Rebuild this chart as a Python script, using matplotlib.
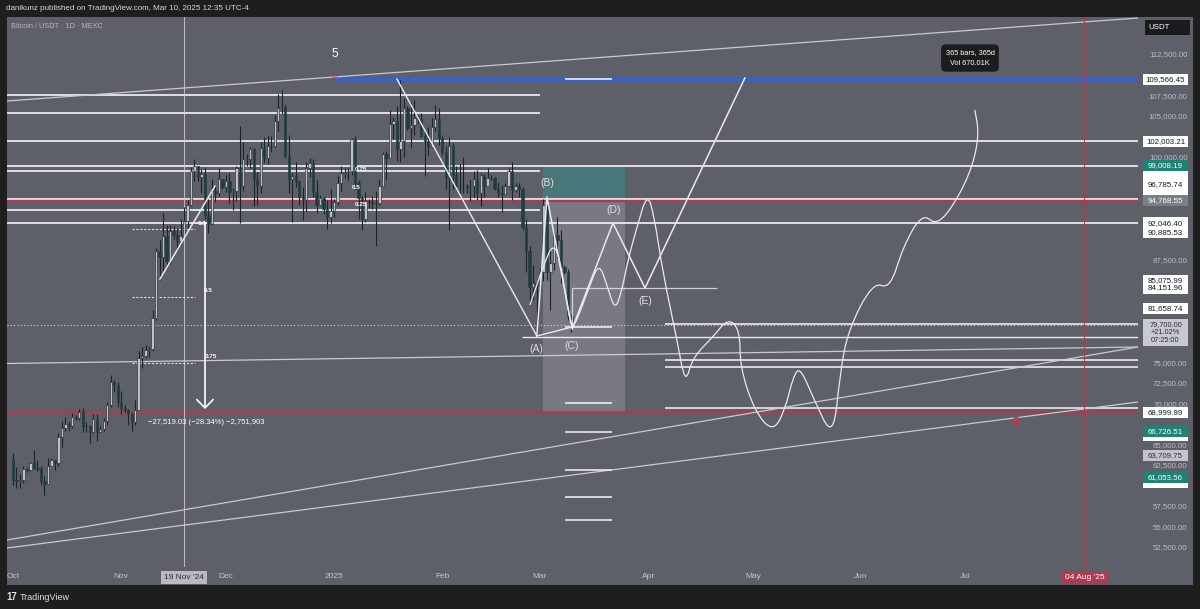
import matplotlib
matplotlib.use('Agg')
import matplotlib.pyplot as plt
import matplotlib.transforms as mtransforms
from matplotlib.patches import Rectangle, PathPatch
from matplotlib.path import Path
import numpy as np

plt.rcParams['font.family'] = ['Liberation Sans', 'DejaVu Sans']

# ---- daily candles, day 0 = 1 Oct 2024 ... day 160 = 10 Mar 2025 ----
first_open = 63300
closes_oct = [60800, 60650, 60750, 62100, 62050, 62800, 62250, 62150, 60600, 60300,
              62450, 63200, 62850, 66050, 67050, 67600, 67400, 68400, 68350, 69000,
              67400, 67400, 66650, 68200, 66650, 67000, 68000, 69900, 72700, 72350, 70250]
highs_oct = [64100, 62400, 61450, 62450, 62350, 63000, 64450, 63200, 62500, 61300,
             63400, 63450, 63250, 66500, 67900, 68400, 67900, 68950, 68650, 69400,
             69500, 67850, 67450, 68800, 68800, 67400, 68300, 70250, 73600, 72950, 72700]
lows_oct = [60200, 59800, 59850, 60450, 61700, 61900, 62100, 61850, 60300, 58900,
            60250, 62450, 62050, 62450, 64800, 66750, 66700, 67100, 68100, 68100,
            66600, 66600, 65300, 66550, 65550, 66550, 66800, 67500, 69700, 71500, 69700]

closes_nov = [69500, 69350, 68750, 67800, 69350, 75600, 75900, 76550, 76700, 80450,
              88700, 87950, 90500, 87400, 91050, 90600, 89850, 90450, 92350, 94300,
              98400, 98950, 97700, 98000, 93050, 91950, 95950, 95650, 97450, 96400]
highs_nov = [71600, 69950, 69400, 69000, 70550, 76450, 76950, 77250, 76950, 81500,
             89000, 89950, 93250, 91800, 91850, 91750, 91450, 92600, 94000, 94900,
             98900, 99800, 99000, 98650, 98900, 94950, 97350, 96650, 98700, 97450]
lows_nov = [68800, 69050, 67450, 66800, 67450, 69350, 74450, 75600, 75800, 76500,
            80250, 85100, 86250, 86650, 87100, 90100, 88700, 89400, 90400, 91500,
            94100, 97200, 97200, 95750, 92600, 90800, 91800, 94650, 95350, 96200]

closes_dec = [97200, 95850, 96000, 98750, 96600, 99850, 99900, 101100, 97350, 96600,
              101150, 100000, 101400, 101400, 104450, 106050, 106150, 100200, 97450, 97750,
              97200, 95200, 94850, 98700, 99400, 95800, 94250, 95150, 93700, 92800, 93550]
highs_dec = [97900, 98100, 96300, 99000, 103900, 101900, 100500, 101300, 101200, 98250,
             101900, 102500, 102600, 102600, 105200, 107800, 108300, 106500, 102800, 98150,
             99500, 97300, 96400, 99450, 99950, 99900, 97300, 95500, 95200, 94900, 96150]
lows_dec = [95800, 94500, 93600, 94700, 92100, 95950, 99000, 98750, 94150, 94300,
            95650, 99300, 99200, 100650, 101250, 103300, 105300, 100000, 95650, 92200,
            96400, 94200, 92400, 93400, 97600, 95200, 93300, 94150, 93200, 91300, 92000]

closes_jan = [94600, 96900, 98100, 98250, 98350, 102250, 96950, 95050, 92500, 94700,
              94550, 94500, 94500, 96550, 100500, 99950, 104100, 104450, 101100, 102000,
              106100, 103650, 103950, 104800, 104700, 102650, 102050, 101300, 103700, 104700, 102400]
highs_jan = [94950, 97750, 98950, 98750, 98800, 102450, 102700, 97250, 95350, 95800,
             95000, 95400, 95900, 97350, 100700, 100850, 105850, 104950, 106300, 109500,
             107250, 106300, 106800, 107050, 105250, 105450, 103200, 103750, 104800, 106450, 106000]
lows_jan = [92750, 94200, 96000, 97500, 97300, 97900, 96150, 92500, 91200, 92200,
            93850, 93700, 89250, 94300, 96500, 97300, 99950, 102300, 99600, 99500,
            100100, 103350, 101300, 102800, 104150, 102500, 97750, 100300, 101300, 103300, 101550]

closes_feb = [100650, 97700, 101400, 97850, 96600, 96550, 96500, 96450, 96500, 97400,
              95750, 97850, 96600, 97500, 97550, 96150, 95750, 95600, 96550, 98350,
              96100, 96600, 96250, 91550, 88700, 84250, 84700, 84350]
highs_feb = [102750, 101450, 102500, 101750, 99000, 99200, 100100, 96850, 97300, 98350,
             98500, 98100, 98050, 98800, 97950, 97700, 97000, 96650, 96900, 98700,
             99500, 96900, 96900, 96450, 92500, 89300, 87000, 85000]
lows_feb = [100300, 96200, 91200, 96200, 96200, 95700, 95650, 95700, 94750, 95250,
            94850, 94100, 95250, 96500, 97250, 96050, 95250, 93400, 95600, 96450,
            94900, 95800, 95200, 91200, 86050, 82300, 82700, 78250]

closes_mar = [86050, 94250, 86100, 87200, 90600, 89950, 86750, 86150, 80700, 79700]
highs_mar = [86550, 95000, 94400, 88900, 91000, 92800, 91200, 86900, 86400, 81000]
lows_mar = [83800, 85050, 85100, 81500, 86350, 87800, 84700, 85900, 80200, 78800]

closes = closes_oct + closes_nov + closes_dec + closes_jan + closes_feb + closes_mar
highs = highs_oct + highs_nov + highs_dec + highs_jan + highs_feb + highs_mar
lows = lows_oct + lows_nov + lows_dec + lows_jan + lows_feb + lows_mar
opens = [first_open] + closes[:-1]

# ---- time axis ----
month_days = [0, 31, 61, 92, 123, 151, 182, 212, 243, 273]
month_labels = ['Oct', 'Nov', 'Dec', '2025', 'Feb', 'Mar', 'Apr', 'May', 'Jun', 'Jul']
marker_day = 49          # 19 Nov '24
future_day = 307         # 04 Aug '25

# ---- drawn levels ----
full_levels = [102003.21, 99008.19, 94950, 92046.40]
left_levels = [107600, 105450, 98400, 93650]
right_levels = [79760, 75380, 74530, 69540]
red_levels = [94700, 68999.99]
short_levels = [109566.45, 79400, 70150, 66620, 62000, 58710, 55910]
blue_level = 109566.45
last_price = 79700
fib_left = [91324, 83049, 75017]

# slanted trend lines (day0, price0, day1, price1)
trend_lines = [(-1.72, 106902, 322.35, 117003),
               (-1.72, 53476, 322.35, 76964),
               (-1.72, 52502, 322.35, 70270),
               (-1.72, 74956, 322.35, 76964)]

wave_days = [150.1, 153.0, 160.2, 171.9, 181.1, 209.7]
wave_prices = [78302, 95219, 79155, 92054, 84144, 109701]
wave_names = ['(A)', '(B)', '(C)', '(D)', '(E)']
wave_label_days = [149.9, 153.0, 160.2, 172.2, 181.1]
wave_label_prices = [76720, 96922, 77085, 93636, 82562]

curve_days = [148.1, 150.1, 152.4, 154.7, 156.7, 158.5, 160.2, 162.5, 165.3, 167.9,
              170.2, 172.5, 174.5, 176.2, 178.8, 181.7, 183.7, 186.2, 190.3, 192.6,
              194.8, 200.6, 204.9, 208.3, 208.3, 212.6, 217.8, 221.2, 223.5, 225.5,
              229.2, 235.0, 237.0, 239.3, 246.4, 251.3, 255.0, 260.5, 264.8, 270.5,
              275.1, 276.8, 275.6]
curve_prices = [82075, 84509, 87308, 89499, 87795, 82683, 79032, 81223, 84509, 87186,
                84509, 81345, 83900, 87551, 91568, 95705, 93028, 85969, 77815, 72339,
                75747, 78181, 80493, 79033, 74530, 69053, 66619, 69297, 73313, 74530,
                70879, 65646, 73801, 79033, 84874, 84022, 89134, 93271, 91690, 94854,
                99113, 103007, 105807]

price_tags = [(109566.45, 'w'), (102003.21, 'w'), (96785.74, 'w'), (92046.40, 'w'),
              (90885.53, 'w'), (85075.99, 'w'), (84151.96, 'w'), (81658.74, 'w'),
              (68999.99, 'w'), (99008.19, 't'), (94768.55, 'g'), (66726.51, 't'),
              (63709.75, 'l'), (61053.56, 't')]
hidden_tags = [97700, 95350, 66150, 60450]
last_tag_low, last_tag_high = 77085, 80371
price_ticks = np.arange(52500, 112501, 2500)

GREY = '#5d5f69'
DARK = '#1e1e1e'
LINE = '#e9eaee'
RED = '#b5374c'
TEAL = '#1e8275'
X0, X1 = -1.72, 322.35
Y0, Y1 = 50190, 117125

fig = plt.figure(figsize=(12, 6.09), dpi=100, facecolor=DARK)

# grey chart panel behind everything
bg = fig.add_axes([7 / 1200, 24 / 609, 1186 / 1200, 568 / 609], zorder=-5)
bg.set_facecolor(GREY)
bg.set_xticks([])
bg.set_yticks([])
for s in bg.spines.values():
    s.set_visible(False)

ax = fig.add_axes([7 / 1200, 42 / 609, 1131 / 1200, 550 / 609])
ax.set_facecolor('none')
ax.set_xlim(X0, X1)
ax.set_ylim(Y0, Y1)
for s in ax.spines.values():
    s.set_visible(False)
ax.set_yticks([])
ax.set_xticks(month_days)
ax.set_xticklabels(month_labels)
ax.tick_params(axis='x', length=0, pad=4.5, labelsize=6, labelcolor='#c3c5cc')

# boxes of the position tool
ax.add_patch(Rectangle((151.9, 94768.55), 23.5, 99008.19 - 94768.55, fc='#26a69a', alpha=0.35, ec='none', zorder=1))
ax.add_patch(Rectangle((151.9, 68999.99), 23.5, 94768.55 - 68999.99, fc='white', alpha=0.17, ec='none', zorder=1))

# horizontal levels
ax.hlines(full_levels, X0, X1, color=LINE, lw=1.3, zorder=2)
ax.hlines(left_levels, X0, 151, color=LINE, lw=1.3, zorder=2)
ax.hlines(right_levels, 186.8, X1, color=LINE, lw=1.2, zorder=2)
ax.hlines([78180], 145.8, X1, color=LINE, lw=1.0, zorder=2)
ax.hlines(red_levels, X0, X1, color=RED, lw=1.6, zorder=2)
ax.hlines([blue_level], 92.3, X1, color='#2f5ff5', lw=1.8, zorder=2)
ax.hlines(short_levels, 158.2, 171.6, color=LINE, lw=1.2, zorder=6)
ax.hlines([84151.96], 160.2, 201.7, color=LINE, lw=0.9, alpha=0.8, zorder=6)
ax.vlines([160.2], 79155, 84151.96, color=LINE, lw=0.9, alpha=0.8, zorder=6)
ax.axhline(last_price, color='#d5d6da', lw=0.8, ls=(0, (1, 2)), zorder=2)
ax.hlines(fib_left, 34.1, 52.1, color='#dcdde0', lw=0.8, ls=(0, (2, 1.5)), zorder=2)

for d0, p0, d1, p1 in trend_lines:
    ax.plot([d0, d1], [p0, p1], color='#c9cbd1', lw=0.9, zorder=2)

ax.axvline(marker_day, color='#cfd1d6', lw=0.8, alpha=0.8, zorder=2)
ax.axvline(future_day, color=RED, lw=0.8, alpha=0.9, zorder=2)

# candles
o = np.array(opens, float)
c = np.array(closes, float)
h = np.array(highs, float)
l = np.array(lows, float)
days = np.arange(len(c))
up = c >= o
ax.vlines(days, l, h, color='#1d2428', lw=0.8, zorder=3)
ax.bar(days[up], (c - o)[up], bottom=o[up], width=0.66, color='#bfc1c8', edgecolor='#1d2428', lw=0.4, zorder=4)
ax.bar(days[~up], (o - c)[~up], bottom=c[~up], width=0.66, color='#1f3c40', edgecolor='#1f3c40', lw=0.4, zorder=4)

# wave drawings
ax.plot([110.0, 150.1], [109579, 78302], color=LINE, lw=1.0, zorder=5)
ax.plot([42.1, 57.9], [85239, 96557], color=LINE, lw=1.1, zorder=5)
ax.plot([150.1, 160.2], [78302, 79398], color=LINE, lw=1.0, zorder=5)
ax.plot(wave_days, wave_prices, color=LINE, lw=1.1, zorder=5)
for name, d, p in zip(wave_names, wave_label_days, wave_label_prices):
    ax.text(d, p, name, color='#dfe0e4', fontsize=7.5, ha='center', va='center', zorder=7)

# free-hand path, smoothed through quadratic segments
pts = np.column_stack([curve_days, curve_prices])
verts = [pts[0]]
codes = [Path.MOVETO]
for i in range(1, len(pts) - 1):
    verts += [pts[i], (pts[i] + pts[i + 1]) / 2]
    codes += [Path.CURVE3, Path.CURVE3]
verts.append(pts[-1])
codes.append(Path.LINETO)
ax.add_patch(PathPatch(Path(verts, codes), fill=False, ec=LINE, lw=0.9, zorder=5))

# measure arrow and fib labels
ax.vlines(55.0, 69540, 92168, color='white', lw=1.2, zorder=6)
ax.plot([52.7, 55.0, 57.3], [70550, 69540, 70550], color='white', lw=1.2, zorder=6)
ax.text(55.3, 67836, '\u221227,519.03 (\u221228.34%) \u22122,751,903', color='white',
        fontsize=5.5, ha='center', va='center', zorder=7)
for txt, d, p in [('0.0', 53.0, 92054), ('0.5', 54.7, 83900), ('0.75', 55.0, 75747),
                  ('0.75', 98.0, 98626), ('0.5', 97.0, 96435), ('0.25', 98.0, 94366)]:
    ax.text(d, p, txt, color='white', fontsize=4.6, fontweight='bold', ha='left', va='center', zorder=7)

ax.text(92.3, 112622, '5', color='white', fontsize=8.5, ha='center', va='center', zorder=7)
ax.text(92.3, 109750, 'A', color='#c8415c', fontsize=6, ha='center', va='center', zorder=7)
ax.text(287.4, 67836, 'B', color='#d6304a', fontsize=7.5, fontweight='bold', ha='center', va='center', zorder=7)
ax.text(274.2, 112135, '365 bars, 365d\nVol 670.01K', color='white', fontsize=5.3, ha='center',
        va='center', linespacing=1.9, zorder=8,
        bbox=dict(boxstyle='round,pad=0.6', fc='#1c1c1f', ec='none'))

# time-axis tags
tx = mtransforms.blended_transform_factory(ax.transData, ax.transAxes)
ax.text(marker_day, -0.019, "19 Nov '24", transform=tx, fontsize=6, color='#2a2e39', ha='center',
        va='center', bbox=dict(boxstyle='square,pad=0.35', fc='#b9bac0', ec='none'), zorder=8)
ax.text(future_day, -0.019, "04 Aug '25", transform=tx, fontsize=6, color='white', ha='center',
        va='center', bbox=dict(boxstyle='square,pad=0.35', fc='#b03a50', ec='none'), zorder=8)

# price scale
pax = fig.add_axes([1138 / 1200, 42 / 609, 55 / 1200, 550 / 609], sharey=ax)
pax.set_xlim(0, 1)
pax.axis('off')
tag_prices = [p for p, _ in price_tags] + hidden_tags
for t in price_ticks:
    if min(abs(t - p) for p in tag_prices) < 950:
        continue  # hidden behind a price tag
    if last_tag_low - 500 < t < last_tag_high + 500:
        continue  # hidden behind the last-price tag
    pax.text(0.9, t, f'{t:,.2f}', color='#bcbec5', fontsize=5.7, ha='right', va='center', zorder=1)

half = 680
for p in hidden_tags:
    pax.add_patch(Rectangle((0.09, p - half), 0.82, 2 * half, fc='white', ec='none', zorder=2))
tag_style = {'w': ('white', '#131722'), 't': (TEAL, 'white'), 'g': ('#7b7d87', 'white'), 'l': ('#c4c5ca', '#2a2e39')}
for p, k in price_tags:
    fc, tc = tag_style[k]
    pax.add_patch(Rectangle((0.09, p - half), 0.82, 2 * half, fc=fc, ec='none', zorder=3))
    pax.text(0.5, p, f'{p:,.2f}', color=tc, fontsize=5.7, ha='center', va='center', zorder=4)
pax.add_patch(Rectangle((0.09, last_tag_low), 0.82, last_tag_high - last_tag_low, fc='#c9cacf', ec='none', zorder=3))
pax.text(0.5, (last_tag_low + last_tag_high) / 2, '79,700.00\n+21.02%\n07:25:00', color='#2a2e39',
         fontsize=5.3, ha='center', va='center', linespacing=1.1, zorder=4)
pax.add_patch(Rectangle((0.13, 114934), 0.82, 1825, fc='#1b1b1d', ec='none', zorder=3))
pax.text(0.38, 115846, 'USDT', color='white', fontsize=5.7, ha='center', va='center', zorder=4)

# header / footer
fig.text(6 / 1200, 1 - 9 / 609, 'danikunz published on TradingView.com, Mar 10, 2025 12:35 UTC-4',
         color='#d8d9dd', fontsize=5.8, va='center')
fig.text(11 / 1200, 1 - 27 / 609, 'Bitcoin / USDT \u00b7 1D \u00b7 MEXC', color='#b6b8bf', fontsize=5.3, va='center')
fig.text(6 / 1200, 1 - 597 / 609, '17', color='#e0e0e0', fontsize=7, fontweight='bold', va='center')
fig.text(20 / 1200, 1 - 597 / 609, 'TradingView', color='#e0e0e0', fontsize=6.5, va='center')

fig.savefig('out.png', dpi=100, facecolor=DARK)
